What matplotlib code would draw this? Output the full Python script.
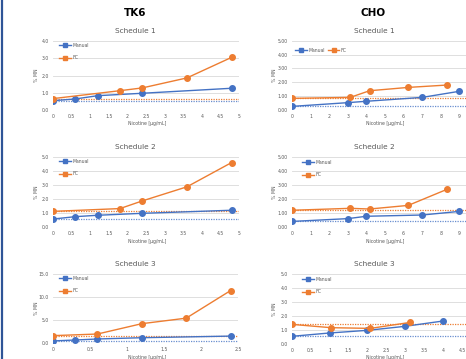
import matplotlib
matplotlib.use("Agg")
import matplotlib.pyplot as plt
from matplotlib.lines import Line2D

W, H = 466, 359

# ---- data ----
tk6_s1_manual_x = [0, 0.6, 1.2, 2.4, 4.8]
tk6_s1_manual_y = [0.54, 0.64, 0.83, 0.97, 1.26]
tk6_s1_fc_x = [0, 1.8, 2.4, 3.6, 4.8]
tk6_s1_fc_y = [0.66, 1.12, 1.28, 1.86, 3.05]

tk6_s2_manual_x = [0, 0.6, 1.2, 2.4, 4.8]
tk6_s2_manual_y = [0.55, 0.72, 0.82, 0.96, 1.18]
tk6_s2_fc_x = [0, 1.8, 2.4, 3.6, 4.8]
tk6_s2_fc_y = [1.10, 1.30, 1.85, 2.86, 4.60]

tk6_s3_manual_x = [0, 0.3, 0.6, 1.2, 2.4]
tk6_s3_manual_y = [0.45, 0.65, 0.87, 1.15, 1.50]
tk6_s3_fc_x = [0, 0.6, 1.2, 1.8, 2.4]
tk6_s3_fc_y = [1.60, 1.95, 4.20, 5.40, 11.40]

cho_s1_manual_x = [0, 3, 4, 7, 9]
cho_s1_manual_y = [0.26, 0.53, 0.63, 0.91, 1.35]
cho_s1_fc_x = [0, 3.13, 4.17, 6.25, 8.33]
cho_s1_fc_y = [0.84, 0.91, 1.39, 1.63, 1.80]

cho_s2_manual_x = [0, 3, 4, 7, 9]
cho_s2_manual_y = [0.40, 0.60, 0.77, 0.86, 1.12]
cho_s2_fc_x = [0, 3.13, 4.17, 6.25, 8.33]
cho_s2_fc_y = [1.20, 1.34, 1.29, 1.55, 2.70]

cho_s3_manual_x = [0, 1, 2, 3, 4]
cho_s3_manual_y = [0.55, 0.79, 0.98, 1.27, 1.65]
cho_s3_fc_x = [0, 1.04, 2.08, 3.13]
cho_s3_fc_y = [1.41, 1.17, 1.12, 1.55]

BLUE = "#4472C4"
ORANGE = "#ED7D31"
GRID = "#D9D9D9"
TXT = "#595959"

fig = plt.figure(figsize=(W / 100, H / 100), dpi=100)
fig.patch.set_facecolor("white")


def make_ax(x0, x1, ytop, ybot):
    return fig.add_axes([x0 / W, 1 - ybot / H, (x1 - x0) / W, (ybot - ytop) / H])


def panel(px, xlab_xy, ylab_x, xlim, xticks, xticklabels, ylim, yticks, yfmt,
          mx, my, fx, fy, ncol, leg_xy, leg_spacing):
    ax = make_ax(*px)
    ax.set_xlim(*xlim)
    ax.set_ylim(*ylim)
    ax.set_yticks(yticks)
    ax.set_yticklabels([yfmt.format(v) for v in yticks])
    ax.set_xticks(xticks)
    ax.set_xticklabels(xticklabels)
    for s in ax.spines.values():
        s.set_visible(False)
    ax.tick_params(length=0, labelsize=3.3, labelcolor=TXT, pad=3)
    ax.grid(axis="y", color=GRID, lw=0.6)
    ax.set_axisbelow(True)
    # baseline dotted lines
    ax.plot([0, xlim[1]], [fy[0], fy[0]], ls=(0, (1, 1)), color=ORANGE, lw=0.9)
    ax.plot([0, xlim[1]], [my[0], my[0]], ls=(0, (1, 1)), color=BLUE, lw=0.9, alpha=0.8)
    ax.plot(mx, my, color=BLUE, lw=1.0, marker="o", ms=4, label="Manual", zorder=4)
    ax.plot(fx, fy, color=ORANGE, lw=1.0, marker="o", ms=4, label="FC", zorder=4)
    handles = [Line2D([0], [0], color=BLUE, lw=1.0, marker="s", ms=2.2),
               Line2D([0], [0], color=ORANGE, lw=1.0, marker="s", ms=2.2)]
    leg = ax.legend(handles, ["Manual", "FC"], loc="upper left",
                    bbox_to_anchor=(leg_xy[0] / W, 1 - leg_xy[1] / H),
                    bbox_transform=fig.transFigure, ncol=ncol, frameon=False,
                    fontsize=3.3, handlelength=2.6, handletextpad=0.3,
                    labelspacing=leg_spacing, columnspacing=0.6, borderpad=0,
                    borderaxespad=0)
    for t in leg.get_texts():
        t.set_color(TXT)
    fig.text(xlab_xy[0] / W, 1 - xlab_xy[1] / H, "Nicotine [µg/mL]", ha="center",
             va="center", fontsize=3.3, color=TXT)
    fig.text(ylab_x / W, 1 - ((px[2] + px[3]) / 2) / H, "% MN", ha="center",
             va="center", rotation=90, fontsize=3.3, color=TXT)
    return ax


def title(txt, x, y):
    fig.text(x / W, 1 - y / H, txt, ha="center", va="center", fontsize=5.3, color=TXT)


tk6_xt5 = [0, 0.5, 1, 1.5, 2, 2.5, 3, 3.5, 4, 4.5, 5]
tk6_xl5 = ["0", "0.5", "1", "1.5", "2", "2.5", "3", "3.5", "4", "4.5", "5"]
tk6_xt3 = [0, 0.5, 1, 1.5, 2, 2.5]
tk6_xl3 = ["0", "0.5", "1", "1.5", "2", "2.5"]
cho_xt10 = list(range(0, 10))
cho_xl10 = [str(v) for v in cho_xt10]
cho_xt5 = [0, 0.5, 1, 1.5, 2, 2.5, 3, 3.5, 4, 4.5]
cho_xl5 = ["0", "0.5", "1", "1.5", "2", "2.5", "3", "3.5", "4", "4.5"]

# TK6
panel((53, 239, 41, 110), (147, 124), 37, (0, 5), tk6_xt5, tk6_xl5,
      (0, 4), [0, 1, 2, 3, 4], "{:.1f}",
      tk6_s1_manual_x, tk6_s1_manual_y, tk6_s1_fc_x, tk6_s1_fc_y, 1, (59, 43), 1.6)
panel((53, 239, 157, 226.7), (147, 241), 37, (0, 5), tk6_xt5, tk6_xl5,
      (0, 5), [0, 1, 2, 3, 4, 5], "{:.1f}",
      tk6_s2_manual_x, tk6_s2_manual_y, tk6_s2_fc_x, tk6_s2_fc_y, 1, (59, 159), 1.6)
panel((53, 238, 274, 343), (147, 357), 37, (0, 2.5), tk6_xt3, tk6_xl3,
      (0, 15), [0, 5, 10, 15], "{:.1f}",
      tk6_s3_manual_x, tk6_s3_manual_y, tk6_s3_fc_x, tk6_s3_fc_y, 1, (59, 276), 1.6)

# CHO
panel((292, 478, 40.7, 110), (385, 124), 274, (0, 10), cho_xt10, cho_xl10,
      (0, 5), [0, 1, 2, 3, 4, 5], "{:.2f}",
      cho_s1_manual_x, cho_s1_manual_y, cho_s1_fc_x, cho_s1_fc_y, 2, (295, 48), 1.0)
panel((292, 478, 157.3, 227), (385, 241), 274, (0, 10), cho_xt10, cho_xl10,
      (0, 5), [0, 1, 2, 3, 4, 5], "{:.2f}",
      cho_s2_manual_x, cho_s2_manual_y, cho_s2_fc_x, cho_s2_fc_y, 1, (302, 160), 1.6)
panel((291.7, 481, 274.3, 344), (385, 357), 274, (0, 5), cho_xt5, cho_xl5,
      (0, 5), [0, 1, 2, 3, 4, 5], "{:.1f}",
      cho_s3_manual_x, cho_s3_manual_y, cho_s3_fc_x, cho_s3_fc_y, 1, (302, 277), 1.6)

title("Schedule 1", 135, 31)
title("Schedule 2", 135, 147)
title("Schedule 3", 135, 264)
title("Schedule 1", 374, 31)
title("Schedule 2", 374, 147)
title("Schedule 3", 374, 264)

fig.text(135 / W, 1 - 13 / H, "TK6", ha="center", va="center", fontsize=7.5,
         fontweight="bold", color="black")
fig.text(373 / W, 1 - 13 / H, "CHO", ha="center", va="center", fontsize=7.5,
         fontweight="bold", color="black")

# left page border
fig.add_artist(Line2D([1.5 / W, 1.5 / W], [0, 1], color="#2F5597", lw=1.6,
                      transform=fig.transFigure))

fig.savefig("out.png", dpi=100, facecolor="white")
